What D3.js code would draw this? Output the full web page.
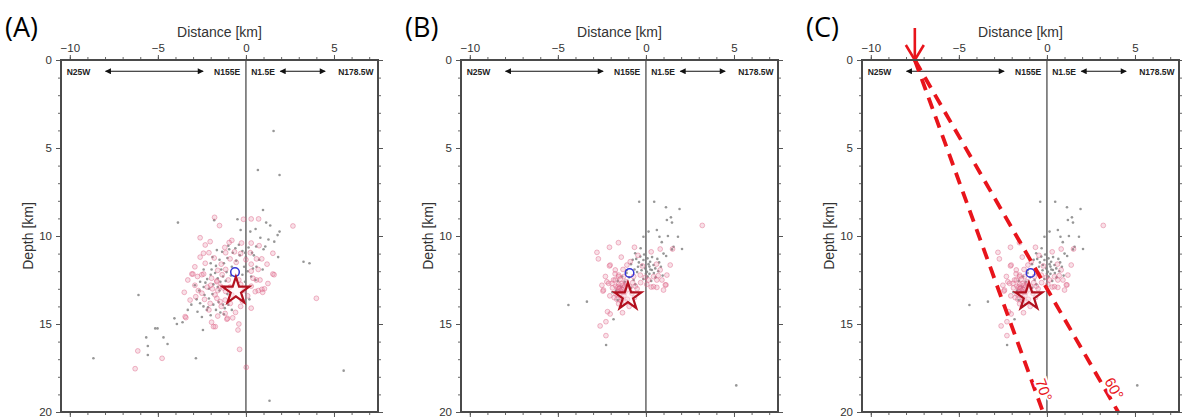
<!DOCTYPE html>
<html>
<head>
<meta charset="utf-8">
<script src="https://cdn.jsdelivr.net/npm/d3@7"></script>
<style>
  body { margin: 0; background: #fff; }
  svg { display: block; font-family: "Liberation Sans", Arial, sans-serif; }
</style>
</head>
<body>
<svg id="chart" width="1182" height="418"></svg>
<script>
// ---- data (distance km, depth km) ----
const panelNames = ["(A)", "(B)", "(C)"];
const xMajor = [-10, -5, 0, 5];
const xMinor = d3.range(-10, 8);
const yMajor = [0, 5, 10, 15, 20];
const yMinor = d3.range(0, 21);
const profileLabels = ["N25W", "N155E", "N1.5E", "N178.5W"];

const grayA = [
  [1.57,4.03],[0.68,6.25],[1.91,6.53],[0.97,8.52],[-3.86,9.24],[-1.8,9.1],[-0.48,9.05],[1.15,9.24],
  [1.38,9.4],[1.91,9.75],[1.8,9.95],[-0.3,9.66],[0.25,9.75],[0.55,9.6],[0.82,10.1],[1.28,10.2],
  [1.61,10.32],[-1.65,10.8],[-0.95,10.75],[-0.6,10.7],[-0.2,10.85],[0.58,10.6],[1.0,10.75],[1.1,10.6],
  [1.83,11.2],[-2.0,11.55],[-1.7,11.7],[-1.05,11.25],[-0.55,11.4],[0.0,11.2],[0.45,11.1],[0.75,11.35],
  [-2.4,11.9],[-2.0,12.2],[-1.75,12.1],[-1.6,12.4],[-1.3,12.3],[0.1,12.0],[0.3,12.3],[0.55,12.5],
  [3.27,11.46],[3.61,11.55],[-2.9,12.8],[-2.6,12.6],[-2.1,13.0],[-1.5,13.1],[-1.2,12.9],[-1.05,13.3],
  [-1.4,11.9],[-1.1,12.05],[-0.2,12.2],[-0.1,11.75],[0.4,11.85],[-1.85,12.75],[-1.6,12.9],
  [-2.35,13.35],[-2.1,13.55],[-1.9,13.3],[-6.1,13.35],[-2.6,13.82],[-2.41,14.0],[-2.22,14.2],
  [-2.15,14.05],[-1.85,13.9],[-1.55,13.75],[-1.3,13.9],[-1.2,14.1],[-2.0,14.5],[-1.25,14.45],
  [-4.06,14.68],[-3.92,15.0],[-2.44,15.34],[-5.15,15.25],[-5.02,15.25],[-5.66,15.76],[-4.68,15.76],
  [-4.45,16.14],[-5.57,16.25],[-5.57,16.76],[-8.66,16.95],[-2.84,16.95],[5.55,17.65],[1.34,19.36],
  [-1.35,10.9],[-1.0,10.55],[-0.75,10.95],[-0.4,10.5],[0.15,10.65],[0.35,10.95],[-1.9,11.2],
  [-1.5,11.35],[-1.25,11.55],[-0.8,11.75],[-0.35,11.1],[-0.05,10.95],[0.6,11.75],[0.95,11.9],
  [-2.2,12.45],[-1.95,11.9],[-1.45,12.6],[-1.15,12.55],[-0.85,12.25],[-2.65,13.1],[-2.4,12.9],
  [-2.8,13.6],[-3.1,13.9],[-3.3,14.2],[-2.75,14.3],[-2.5,14.6],[-1.7,14.2],[-1.45,14.35],
  [-1.0,13.9],[-0.8,14.2],[-3.6,14.9],[-0.05,12.6],[0.2,13.6],[-2.3,12.65]
];
const pinkA = [
  [-1.78,8.94],[-1.5,9.41],[-0.14,9.05],[0.3,9.03],[0.72,9.03],[2.67,9.43],[-2.03,10.32],[-2.31,10.51],
  [-0.95,10.37],[-0.8,10.25],[-0.25,10.4],[0.3,10.4],[-2.41,10.98],[-2.1,10.95],[-1.15,10.95],
  [0.6,11.3],[0.9,11.3],[1.53,10.98],[-2.31,11.55],[-1.4,11.6],[-0.9,11.3],[-0.55,11.5],[0.0,11.35],
  [0.3,11.6],[-3.07,12.16],[-2.75,12.3],[-2.4,12.16],[-1.95,12.4],[-1.65,12.55],[-1.35,12.2],
  [0.3,12.0],[0.7,11.9],[0.4,12.4],[0.8,12.5],[1.6,12.2],[4.0,13.54],[-2.7,13.1],[-2.9,12.8],
  [-2.5,13.25],[-2.2,12.9],[-1.9,13.0],[-1.6,13.1],[-1.3,12.95],[0.7,13.1],[0.95,13.2],[1.05,13.0],
  [-3.17,13.64],[-3.01,12.16],[-2.5,12.2],[-1.65,12.6],[0.59,12.5],[0.91,13.03],[1.53,12.16],
  [0.53,13.16],[-1.0,12.5],[-0.9,12.9],[-0.3,12.75],[0.1,13.4],[-0.2,13.7],[-2.03,13.83],
  [-1.65,13.54],[-1.46,13.73],[-1.18,13.64],[-0.89,13.83],[-0.59,14.34],[-1.08,14.73],[-3.41,14.64],
  [-1.74,15.15],[-0.45,15.34],[-6.14,16.53],[-0.36,16.44],[-4.76,16.95],[-6.29,17.54],[0.02,17.46],
  [-3.45,14.58],[-1.18,14.4],[-1.05,14.68],[-1.84,15.15],
  [-2.6,11.2],[-1.8,11.25],[-1.6,11.95],[-1.15,11.9],[-0.65,10.9],[-0.3,11.0],[0.25,10.95],
  [1.2,11.6],[1.25,12.7],[-2.0,12.8],[-1.75,13.35],[-1.45,12.85],[-1.15,13.15],[-0.8,13.35],
  [-0.4,12.5],[-0.1,13.1],[0.3,12.85],[-2.85,13.45],[-2.35,13.6],[-2.1,14.2],[-1.6,14.55],
  [-0.75,14.65],[-0.3,14.0],[0.3,14.1],[-3.3,12.5],[-3.5,13.2],[-1.2,10.65],[0.75,10.55],
  [-2.6,10.1],[-2.9,11.75],[-1.4,14.0],[-0.4,15.0],[-1.95,14.9]
];
const grayBC = [
  [-0.38,8.05],[0.47,8.05],[1.14,8.37],[1.91,8.47],[1.19,9.09],[1.42,8.94],[1.48,9.24],[0.15,9.75],
  [0.62,9.66],[-0.14,10.04],[0.77,10.04],[1.25,10.0],[1.82,10.04],[1.57,10.61],[2.05,10.74],
  [1.48,10.76],[1.15,11.14],[-0.61,10.98],[-0.32,11.17],[-0.14,11.36],[0.09,11.27],[0.24,11.46],
  [0.43,11.65],[0.2,11.74],[-0.04,11.84],[-0.23,11.65],[0.06,12.03],[0.34,11.93],[0.53,11.84],
  [0.75,11.5],[-0.55,11.3],[0.25,11.9],[0.45,12.1],[0.7,12.0],[0.1,12.3],[-0.45,11.75],[-0.85,11.6],
  [-1.1,11.95],[-1.35,12.3],[-0.7,12.5],[0.3,12.55],[-1.4,12.9],[-1.7,13.1],[-3.35,13.73],
  [-4.4,13.92],[-1.61,13.64],[-1.84,14.73],[-2.26,16.19],[5.13,18.49],
  [-0.25,11.95],[0.0,12.15],[0.2,12.15],[-0.5,12.05],[-0.65,11.9],[-0.95,12.35],[-0.15,12.45],
  [0.55,12.35],[0.85,11.75],[-0.4,11.5],[-0.1,11.05],[0.35,11.2],[-0.75,11.35],[0.65,11.3],
  [0.95,12.25],[-1.2,12.6],[-0.6,12.75],[-1.6,12.55],[-1.9,13.2],[-1.25,13.9],[-0.3,10.7],
  [0.9,10.35],[1.0,11.0],[-1.1,12.1],[0.15,11.6],[-0.85,12.95]
];
const pinkBC = [
  [3.2,9.4],[0.81,10.74],[1.51,10.74],[-1.56,10.38],[-2.07,10.64],[-2.78,10.93],[-0.65,10.64],
  [-2.07,11.7],[-2.03,11.65],[-1.74,11.93],[-1.55,12.22],[-1.27,12.31],[-1.08,11.65],[-0.89,11.46],
  [-0.32,12.22],[-0.04,12.35],[0.15,12.5],[0.43,12.31],[0.81,11.93],[0.91,12.5],[1.1,12.78],
  [1.19,12.22],[1.38,11.65],[-2.41,13.07],[-2.22,12.6],[-1.93,12.69],[-1.74,12.5],[0.62,12.92],
  [1.0,13.07],[-1.6,12.9],[-1.45,13.1],[-1.3,12.8],[-1.2,13.2],[-1.5,13.35],[-1.35,13.55],
  [-1.1,12.7],[-0.9,12.9],[-1.7,13.3],[-1.55,12.75],[-1.25,13.4],[-1.05,13.05],[-0.75,12.65],
  [-0.6,12.85],[-1.4,13.7],[-1.8,13.5],[-2.44,13.13],[0.62,12.5],[0.43,12.88],[1.14,12.78],
  [-2.18,14.3],[-2.03,14.43],[-1.33,14.36],[-2.27,14.87],[-2.6,15.11],[-2.27,15.66],
  [-2.12,12.69],[-1.84,12.5],[-1.55,12.31],
  [-1.9,12.95],[-1.65,13.6],[-1.15,13.75],[-0.8,13.25],[-0.5,13.0],[-0.3,12.65],[0.05,12.75],
  [0.3,12.9],[-2.05,13.4],[-1.75,12.15],[-1.3,11.9],[-0.7,12.3],[-0.2,11.7],[0.6,11.6],
  [0.7,12.25],[-2.3,12.3],[-1.05,13.6],[-0.65,13.5],[-1.45,12.45],[-1.25,12.95],[-1.55,13.85],
  [-0.95,14.0],[-2.5,12.8],[-1.4,11.2],[-0.45,11.1],[0.3,10.9],[-2.7,11.3],
  [-1.5,12.95],[-1.35,13.05],[-1.6,13.15],[-1.4,12.7],[-1.2,12.85],[-1.7,12.85],[-1.45,13.25],
  [-1.15,12.6],[-1.55,13.0],[-1.3,13.2]
];
const hypoCircle = [[-0.62, 12.05], [-0.93, 12.1], [-0.93, 12.1]];
const mainshock = [[-0.57, 13.12], [-1.02, 13.45], [-1.02, 13.45]];
const faultTopX = -7.5;
const dips = [70, 60];

const svg = d3.select("#chart");
const red = "#e8141b";

const defs = svg.append("defs");
defs.append("marker")
  .attr("id", "ah")
  .attr("viewBox", "0 0 10 10")
  .attr("refX", 9).attr("refY", 5)
  .attr("markerWidth", 9).attr("markerHeight", 6)
  .attr("markerUnits", "userSpaceOnUse")
  .attr("orient", "auto-start-reverse")
  .append("path").attr("d", "M0,0L10,5L0,10z").attr("fill", "#111");

function drawPanel(i, gray, pink) {
  const off = [0, 400, 801][i];
  const x = d3.scaleLinear().domain([-10.5, 7.5]).range([off + 61, off + 378]);
  const y = d3.scaleLinear().domain([0, 20]).range([60, 412]);
  const g = svg.append("g");

  g.append("text")
    .attr("x", off + 5).attr("y", 37)
    .attr("font-family", "'Open Sans', 'Noto Sans', sans-serif")
    .attr("font-size", 27).attr("fill", "#000")
    .text(panelNames[i]);

  g.append("text")
    .attr("x", (x.range()[0] + x.range()[1]) / 2).attr("y", 37)
    .attr("text-anchor", "middle").attr("font-size", 14).attr("fill", "#333")
    .text("Distance [km]");

  g.append("text")
    .attr("transform", `translate(${off + 33},${y(10)}) rotate(-90)`)
    .attr("text-anchor", "middle").attr("font-size", 14).attr("fill", "#333")
    .text("Depth [km]");

  // axes: minor ticks, then labelled major ticks
  const axes = [
    [d3.axisTop, x, `translate(0,${y(0)})`, true],
    [d3.axisBottom, x, `translate(0,${y(20)})`, false],
    [d3.axisLeft, y, `translate(${x(-10.5)},0)`, true],
    [d3.axisRight, y, `translate(${x(7.5)},0)`, false]
  ];
  axes.forEach(([ax, sc, tr, lab]) => {
    const isX = sc === x;
    g.append("g").attr("transform", tr)
      .call(ax(sc).tickValues(isX ? xMinor : yMinor).tickSize(3).tickFormat(""))
      .call(s => s.select(".domain").remove())
      .call(s => s.selectAll("line").attr("stroke", "#666"));
    g.append("g").attr("transform", tr)
      .call(ax(sc).tickValues(isX ? xMajor : yMajor).tickSize(5).tickPadding(isX ? 3 : 4)
        .tickFormat(lab ? d3.format("d") : ""))
      .call(s => s.select(".domain").remove())
      .call(s => s.selectAll("line").attr("stroke", "#555"))
      .call(s => s.selectAll("text").attr("font-size", 11.5).attr("fill", "#333")
        .attr("font-family", "'Liberation Sans', Arial, sans-serif"));
  });

  // zero line
  g.append("line")
    .attr("x1", x(0)).attr("x2", x(0)).attr("y1", y(0)).attr("y2", y(20))
    .attr("stroke", "#666").attr("stroke-width", 1.5);

  // profile direction labels
  const hy = y(0.86);
  const hdr = g.append("g")
    .attr("font-size", 8.5).attr("font-weight", "bold").attr("fill", "#222");
  hdr.append("text").attr("x", x(-10.18)).attr("y", hy).text(profileLabels[0]);
  hdr.append("text").attr("x", x(-0.33)).attr("y", hy).attr("text-anchor", "end").text(profileLabels[1]);
  hdr.append("text").attr("x", x(0.3)).attr("y", hy).text(profileLabels[2]);
  hdr.append("text").attr("x", x(7.25)).attr("y", hy).attr("text-anchor", "end").text(profileLabels[3]);
  [[-7.97, -2.43], [1.95, 4.5]].forEach(([a, b]) => {
    g.append("line")
      .attr("x1", x(a)).attr("x2", x(b)).attr("y1", y(0.64)).attr("y2", y(0.64))
      .attr("stroke", "#111").attr("stroke-width", 1)
      .attr("marker-start", "url(#ah)").attr("marker-end", "url(#ah)");
  });

  // events
  g.append("g").selectAll("circle").data(gray).join("circle")
    .attr("cx", d => x(d[0])).attr("cy", d => y(d[1])).attr("r", 1.3)
    .attr("fill", "#7d7d7d").attr("fill-opacity", 0.8);
  g.append("g").selectAll("circle").data(pink).join("circle")
    .attr("cx", d => x(d[0])).attr("cy", d => y(d[1])).attr("r", 2.4)
    .attr("fill", "rgba(222,100,135,0.2)")
    .attr("stroke", "rgba(222,100,135,0.5)").attr("stroke-width", 0.9);

  g.append("circle")
    .attr("cx", x(hypoCircle[i][0])).attr("cy", y(hypoCircle[i][1])).attr("r", 4.3)
    .attr("fill", "none").attr("stroke", "#3434d6").attr("stroke-width", 1.5);

  g.append("path")
    .attr("transform", `translate(${x(mainshock[i][0])},${y(mainshock[i][1])})`)
    .attr("d", d3.symbol(d3.symbolStar, 225)())
    .attr("fill", "rgba(255,240,242,0.45)")
    .attr("stroke", "#b3101f").attr("stroke-width", 2.2).attr("stroke-linejoin", "miter");

  // fault dip guides (panel C)
  if (i === 2) {
    dips.forEach(dip => {
      const xb = faultTopX + 20 / Math.tan(dip * Math.PI / 180);
      g.append("line")
        .attr("x1", x(faultTopX)).attr("y1", y(0)).attr("x2", x(xb)).attr("y2", y(20))
        .attr("stroke", red).attr("stroke-width", 3.8).attr("stroke-dasharray", "12,8");
    });
    dips.forEach(dip => {
      const d = 18.9;
      const xl = faultTopX + d / Math.tan(dip * Math.PI / 180);
      g.append("text")
        .attr("transform", `translate(${x(xl)},${y(d)}) rotate(${dip})`)
        .attr("text-anchor", "middle").attr("dy", -3)
        .attr("font-size", 15).attr("fill", red)
        .attr("stroke", "#fff").attr("stroke-width", 4).attr("paint-order", "stroke")
        .text(dip + "°");
    });
    const ax0 = x(faultTopX);
    g.append("path")
      .attr("d", d3.line()([[ax0, 28], [ax0, y(0) - 1]]))
      .attr("stroke", red).attr("stroke-width", 2.6);
    g.append("path")
      .attr("d", d3.line()([[ax0 - 9, 45], [ax0, y(0)], [ax0 + 9, 45]]))
      .attr("fill", "none").attr("stroke", red).attr("stroke-width", 2.6);
  }

  // frame
  g.append("rect")
    .attr("x", x(-10.5)).attr("y", y(0))
    .attr("width", x(7.5) - x(-10.5)).attr("height", y(20) - y(0))
    .attr("fill", "none").attr("stroke", "#4a4a4a").attr("stroke-width", 2);
}

drawPanel(0, grayA, pinkA);
drawPanel(1, grayBC, pinkBC);
drawPanel(2, grayBC, pinkBC);
</script>
</body>
</html>
